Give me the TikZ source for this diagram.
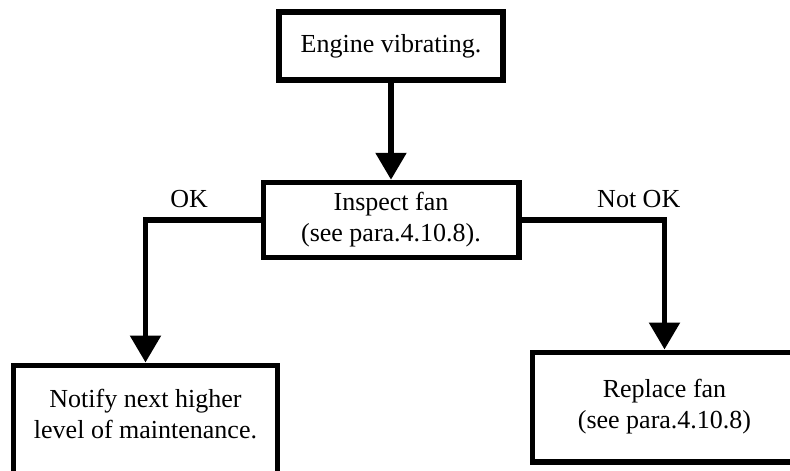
\documentclass[tikz,border=0pt]{standalone}
\usepackage{fontspec}
\setmainfont{Liberation Serif}
\usetikzlibrary{arrows.meta, positioning}

\begin{document}
\begin{tikzpicture}[
    x=1pt, y=-1pt,
    font=\fontsize{26}{31}\selectfont,
    stepbox/.style={
      draw=black,
      line width=5.5pt,
      fill=white,
      align=center,
      inner sep=0pt,
    },
    flow/.style={
      line width=5.5pt,
      -{Triangle[width=30pt,length=27pt]},
    },
    branch/.style={
      inner sep=0pt,
      above=9pt,
    },
  ]
  \useasboundingbox (0,0) rectangle (790,471);
  \clip (0,0) rectangle (790,471);

  \node[stepbox, minimum width=224pt, minimum height=68pt] (engine) at (391,46) {Engine vibrating.};
  \node[stepbox, minimum width=255.5pt, minimum height=75pt] (inspect) at (391,220) {Inspect fan\\(see para.4.10.8).};
  \node[stepbox, minimum width=264pt, minimum height=137pt, text depth=40pt, anchor=north] (notify) at (145.5,362.5) {Notify next higher\\level of maintenance.};
  \node[stepbox, minimum width=264pt, minimum height=109.5pt] (replace) at (664.5,407) {Replace fan\\(see para.4.10.8)};

  \draw[flow] (engine) -- (inspect);
  \draw[flow] (inspect.west) -| node[branch, pos=0.31] {OK} (notify.north);
  \draw[flow] (inspect.east) -| node[branch, pos=0.41] {Not OK} (replace.north);
\end{tikzpicture}
\end{document}
